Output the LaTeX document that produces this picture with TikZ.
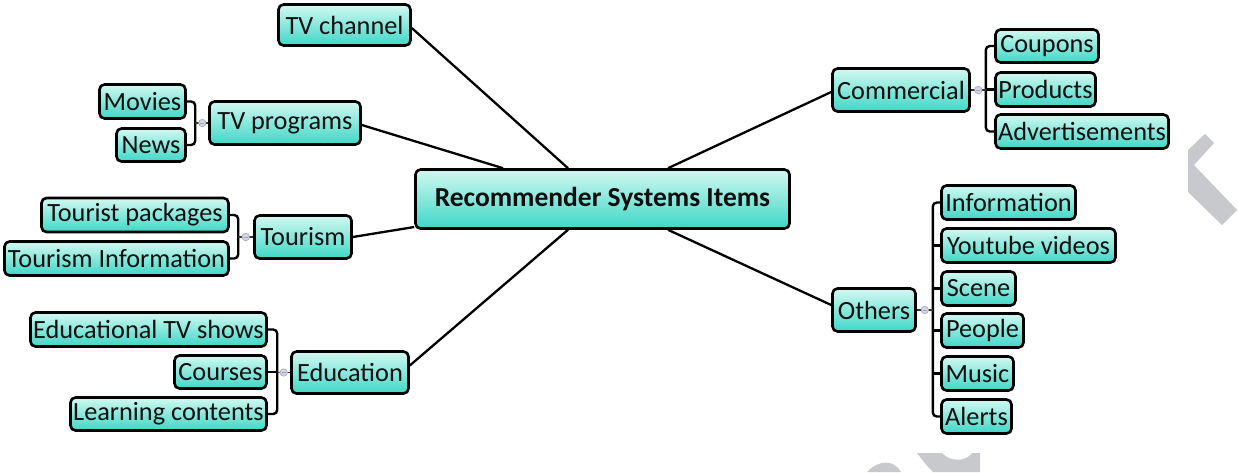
\documentclass[tikz,border=0pt]{standalone}
\usepackage{fontspec}
\setmainfont{Carlito}
\usetikzlibrary{calc}
\definecolor{topc}{RGB}{210,248,241}
\definecolor{botc}{RGB}{62,215,199}
\definecolor{wm}{RGB}{200,201,204}
\definecolor{knobc}{RGB}{205,214,234}
\definecolor{txt}{RGB}{15,15,15}
\begin{document}
\begin{tikzpicture}[x=1pt,y=-1pt,
  itembox/.style={draw=black, line width=2.6pt, rounded corners=5pt, top color=topc, bottom color=botc, inner sep=0pt, text=txt, font=\fontsize{26.3}{29}\selectfont},
  rootbox/.style={itembox, font=\fontsize{27.5}{31}\selectfont\bfseries},
  link/.style={line width=2.3pt, draw=black},
  brk/.style={line width=2.4pt, draw=black, rounded corners=4pt},
  knobline/.style={line width=1.4pt, draw=black!80},
  knob/.style={circle, draw=gray!70, fill=knobc, line width=0.6pt, minimum size=7.5pt, inner sep=0pt},
  wmark/.style={fill=wm, draw=none}]
\useasboundingbox (0,0) rectangle (1238,472);
% watermark fragments
\fill[wmark] (1205,134) -- (1214,143) -- (1194,165) -- (1237,210) -- (1222,225) -- (1188,192) -- (1188,150) -- cycle;
\fill[wmark] (867,472) .. controls (878,460) and (894,459) .. (901,472) -- cycle;
\fill[wmark] (917,453) -- (942,453) .. controls (950,462) and (966,462) .. (972,453) -- (980,453) -- (980,472) -- (933,472) .. controls (927,466) .. (917,453) -- cycle;

% root
\node[rootbox, minimum width=374pt, minimum height=59pt] (root) at (602.5,199) {Recommender Systems Items};

% first level
\node[itembox, minimum width=132pt, minimum height=41pt] (tvc) at (344.5,25) {TV channel};
\node[itembox, minimum width=151pt, minimum height=43pt] (tvp) at (285,123) {TV programs};
\node[itembox, minimum width=97pt, minimum height=43pt] (tour) at (303,237) {Tourism};
\node[itembox, minimum width=117pt, minimum height=42pt] (edu) at (350,372.5) {Education};
\node[itembox, minimum width=137pt, minimum height=43pt] (comm) at (901,90) {Commercial};
\node[itembox, minimum width=83pt, minimum height=43pt] (oth) at (874,310) {Others};

% second level
\node[itembox, minimum width=86pt, minimum height=34pt] (movies) at (142.5,101.5) {Movies};
\node[itembox, minimum width=69pt, minimum height=33pt] (news) at (151,145) {News};
\node[itembox, minimum width=187pt, minimum height=34pt] (tpack) at (135,215) {Tourist packages};
\node[itembox, minimum width=224pt, minimum height=34pt] (tinfo) at (116.5,258.5) {Tourism Information};
\node[itembox, minimum width=236pt, minimum height=34pt] (etv) at (148.5,329.5) {Educational TV shows};
\node[itembox, minimum width=92pt, minimum height=33pt] (courses) at (220.5,372) {Courses};
\node[itembox, minimum width=196pt, minimum height=33pt] (learn) at (168.5,414) {Learning contents};
\node[itembox, minimum width=103pt, minimum height=33pt] (coupons) at (1047,46) {Coupons};
\node[itembox, minimum width=100pt, minimum height=34pt] (products) at (1045.5,89.5) {Products};
\node[itembox, minimum width=173pt, minimum height=34pt] (adv) at (1082,131.5) {Advertisements};
\node[itembox, minimum width=134pt, minimum height=34pt] (info) at (1008.5,202.5) {Information};
\node[itembox, minimum width=174pt, minimum height=34pt] (yt) at (1028.5,245.5) {Youtube videos};
\node[itembox, minimum width=74pt, minimum height=34pt] (scene) at (978.5,288.5) {Scene};
\node[itembox, minimum width=82pt, minimum height=34pt] (people) at (982.5,330.5) {People};
\node[itembox, minimum width=72pt, minimum height=34pt] (music) at (977.5,373.5) {Music};
\node[itembox, minimum width=70pt, minimum height=34pt] (alerts) at (976.5,416.5) {Alerts};

% root connectors
\coordinate (rA) at ($(root.north)+(-34.5,0)$);
\coordinate (rB) at ($(root.north)+(-99.5,0)$);
\coordinate (rC) at ($(root.west)+(0,28)$);
\coordinate (rD) at ($(root.south)+(-34.5,0)$);
\coordinate (rE) at ($(root.north)+(65.5,0)$);
\coordinate (rF) at ($(root.south)+(65.5,0)$);
\draw[link] ($(tvc.east)+(0,3)$) -- (rA);
\draw[link] ($(tvp.east)+(0,2)$) -- (rB);
\draw[link] (tour.east) -- (rC);
\draw[link] ($(edu.east)+(0,-7)$) -- (rD);
\draw[link] ($(comm.west)+(0,2)$) -- (rE);
\draw[link] ($(oth.west)+(0,-5)$) -- (rF);

% brackets
\coordinate (tvpb) at ($(tvp.west)+(-13,0)$);
\draw[brk] (movies.east) -| (tvpb) |- (news.east);
\draw[knobline] (tvp.west) -- (tvpb);
\node[knob] (k1) at ($(tvp.west)!0.45!(tvpb)$) {};

\coordinate (tourb) at ($(tour.west)+(-15,0)$);
\draw[brk] (tpack.east) -| (tourb) |- (tinfo.east);
\draw[knobline] (tour.west) -- (tourb);
\node[knob] (k2) at ($(tour.west)!0.5!(tourb)$) {};

\coordinate (edub) at ($(edu.west)+(-13,0)$);
\draw[brk] (etv.east) -| (edub) |- (learn.east);
\draw[brk] (courses.east) -- (courses.east -| edub);
\draw[knobline] (edu.west) -- (edub);
\node[knob] (k3) at ($(edu.west)!0.5!(edub)$) {};

\coordinate (commb) at ($(comm.east)+(15,0)$);
\draw[brk] (coupons.west) -| (commb) |- (adv.west);
\draw[brk] (products.west) -- (products.west -| commb);
\draw[knobline] (comm.east) -- (commb);
\node[knob] (k4) at ($(comm.east)!0.5!(commb)$) {};

\coordinate (othb) at ($(oth.east)+(16,0)$);
\draw[brk] (info.west) -| (othb) |- (alerts.west);
\foreach \c in {yt,scene,people,music}
  \draw[brk] (\c.west) -- (\c.west -| othb);
\draw[knobline] (oth.east) -- (othb);
\node[knob] (k5) at ($(oth.east)!0.5!(othb)$) {};

\foreach \k in {k1,k2,k3,k4,k5}
  \draw[gray!70, line width=0.6pt] ($(\k)+(-2,0)$) -- ($(\k)+(2,0)$);
\end{tikzpicture}
\end{document}
